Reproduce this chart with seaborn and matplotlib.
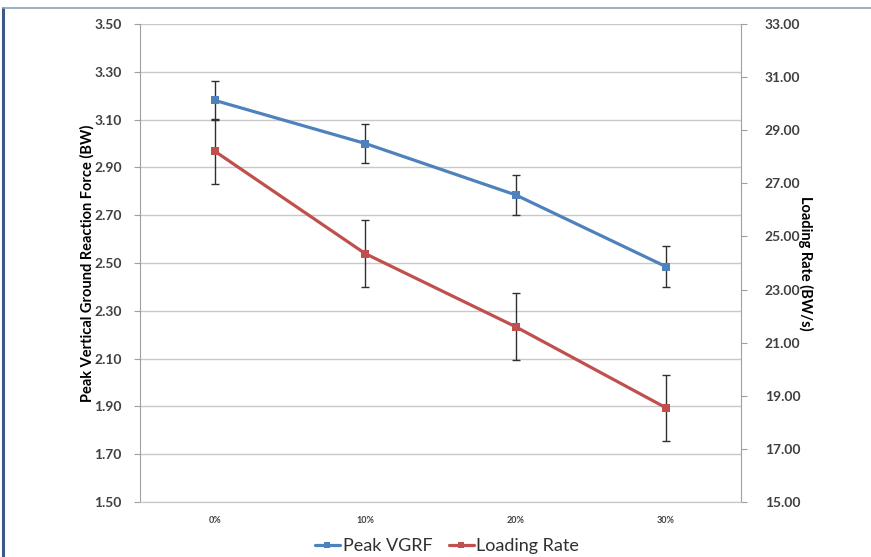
import matplotlib
matplotlib.use("Agg")
import matplotlib.pyplot as plt
import seaborn as sns
import pandas as pd
from matplotlib.lines import Line2D

categories = ["0%", "10%", "20%", "30%"]
peak_vgrf = [3.18, 3.00, 2.785, 2.485]
peak_vgrf_err = [0.083, 0.082, 0.083, 0.085]
loading_rate = [28.2, 24.35, 21.6, 18.55]
loading_rate_err = [1.24, 1.26, 1.26, 1.25]

left_ticks = [1.50, 1.70, 1.90, 2.10, 2.30, 2.50, 2.70, 2.90, 3.10, 3.30, 3.50]
right_ticks = [15.00, 17.00, 19.00, 21.00, 23.00, 25.00, 27.00, 29.00, 31.00, 33.00]

sns.set_style("white")
plt.rcParams['font.family'] = ['Lato', 'DejaVu Sans']

blue = "#4f81bd"
red = "#c0504d"
txt = "#404040"

fig = plt.figure(figsize=(8.71, 5.57), dpi=100)
ax = fig.add_axes([140 / 871, 1 - 502 / 557, 601 / 871, 478 / 557])
ax2 = ax.twinx()

x = list(range(len(categories)))
df1 = pd.DataFrame({"x": x, "y": peak_vgrf})
df2 = pd.DataFrame({"x": x, "y": loading_rate})

ax.errorbar(x, peak_vgrf, yerr=peak_vgrf_err, fmt="none", ecolor="#303030",
            elinewidth=1.0, capsize=3, capthick=1.0, zorder=3)
sns.lineplot(data=df1, x="x", y="y", ax=ax, color=blue, linewidth=2.3,
             marker="s", markersize=6, markeredgewidth=0, zorder=4)

ax2.errorbar(x, loading_rate, yerr=loading_rate_err, fmt="none", ecolor="#303030",
             elinewidth=1.0, capsize=3, capthick=1.0, zorder=3)
sns.lineplot(data=df2, x="x", y="y", ax=ax2, color=red, linewidth=2.3,
             marker="s", markersize=6, markeredgewidth=0, zorder=4)

ax.set_xlim(-0.5, 3.5)
ax.set_ylim(1.5, 3.5)
ax2.set_ylim(15, 33)
ax.set_yticks(left_ticks)
ax.set_yticklabels([f"{v:.2f}" for v in left_ticks], fontsize=10, color=txt, fontweight="bold")
ax2.set_yticks(right_ticks)
ax2.set_yticklabels([f"{v:.2f}" for v in right_ticks], fontsize=10, color=txt, fontweight="bold")

ax.set_xticks(x)
ax.set_xticklabels(categories, fontsize=6.5, color=txt, fontweight="bold")
ax.set_xticks([-0.5, 0.5, 1.5, 2.5, 3.5], minor=True)
ax.tick_params(axis="x", which="major", length=0, pad=10)
ax.tick_params(axis="x", which="minor", length=4, color="#a0a0a0", direction="out")
ax.tick_params(axis="y", length=4, color="#a0a0a0", direction="out", pad=9)
ax2.tick_params(axis="y", length=4, color="#a0a0a0", direction="out", pad=13)

ax.grid(axis="y", color="#c8c8c8", linewidth=1.0)
ax.set_axisbelow(True)
for a in (ax, ax2):
    a.spines["top"].set_visible(False)
    a.spines["left"].set_color("#a0a0a0")
    a.spines["right"].set_color("#a0a0a0")
    a.spines["bottom"].set_color("#c8c8c8")
    a.set_xlabel("")
ax.spines["right"].set_visible(False)
ax2.spines["left"].set_visible(False)

ax.set_ylabel("Peak Vertical Ground Reaction Force (BW)", fontsize=10.5,
              fontweight="bold", color="black", labelpad=0)
ax2.set_ylabel("Loading Rate (BW/s)", fontsize=10.5, fontweight="bold",
               color="black", rotation=270, labelpad=9)
ax.set_xlabel("")

handles = [Line2D([0], [0], color=blue, lw=2.3, marker="s", markersize=5, markeredgewidth=0),
           Line2D([0], [0], color=red, lw=2.3, marker="s", markersize=5, markeredgewidth=0)]
fig.legend(handles, ["Peak VGRF", "Loading Rate"], loc="center",
           bbox_to_anchor=(447 / 871, 1 - 546 / 557), ncol=2, frameon=False,
           fontsize=13, handlelength=1.4, handletextpad=0.15, columnspacing=0.9,
           labelcolor="#303030")

# outer frame lines
fig.add_artist(Line2D([3 / 871, 3 / 871], [0, 1 - 8 / 557], color="#3b5a85", lw=2.2,
                      transform=fig.transFigure))
fig.add_artist(Line2D([3 / 871, 1], [1 - 8 / 557, 1 - 8 / 557], color="#8da2bb", lw=1.2,
                      transform=fig.transFigure))

fig.savefig("out.png", dpi=100)
